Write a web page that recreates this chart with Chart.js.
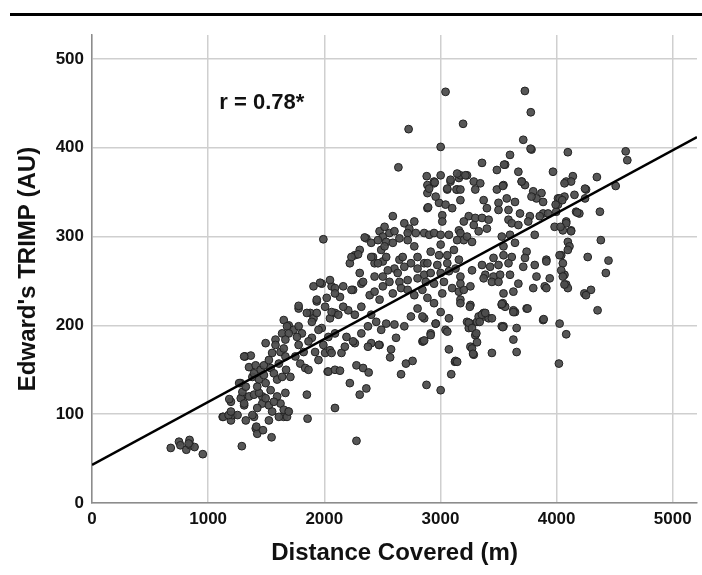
<!DOCTYPE html>
<html>
<head>
<meta charset="utf-8">
<script src="https://cdn.jsdelivr.net/npm/chart.js@4/dist/chart.umd.min.js"></script>
<style>
  html, body { margin: 0; padding: 0; background: #fff; overflow: hidden; }
  #wrap { width: 702px; height: 575px; position: relative; }
  #chart { display: block; }
</style>
</head>
<body>
<div id="wrap"><canvas id="chart"></canvas></div>
<script>
// axis ticks
const xTicks = [0, 1000, 2000, 3000, 4000, 5000];
const yTicks = [0, 100, 200, 300, 400, 500];

// sessions: [distance covered (m), Edward's TRIMP (AU)]
const shortSessions = [
  [678,62],[749,69],[761,65],[812,60],[840,71],[846,65],[883,63],[954,55],[832,67]
];

const lowSessions = [
  [1290,64],[1125,97],[1196,93],[1210,99],[1196,114],[1182,117],[1281,135],[1295,120],[1310,110],[1324,93],
  [1395,97],[1410,84],[1423,78],[1472,82],[1546,74],[1523,93],[1318,165],[1367,166],[1352,153],[1381,142],
  [1438,139],[1466,120],[1495,180],[1580,184],[1651,97],[1688,103],[1850,122],[1856,95],[2029,148],[2092,107],
  [1415,86],[1130,97],[1176,99],[1253,99],[1381,99],[1281,118],[1295,125],[1352,120],[1395,122],[1438,124],
  [1267,135],[1324,131],[1423,131],[1495,135],[1538,127],[1594,120],[1623,112],[1466,112],[1523,110],[1495,118],
  [1566,114],[1665,124],[1651,105],[1679,97],[1694,103],[1310,165],[1409,155],[1395,146],[1452,150],[1480,155],
  [1480,144],[1523,161],[1551,169],[1538,152],[1566,146],[1594,139],[1609,157],[1623,170],[1651,174],[1665,165],
  [1671,150],[1637,142],[1708,142],[1580,178],[1637,191],[1694,200],[1736,195],[1779,199],[1807,191],[1765,187],
  [1779,178],[1822,170],[1751,165],[1793,157],[1836,152],[1864,150],[1893,186],[1864,182],[1779,219],[1779,222],
  [1879,214],[1907,208],[1935,227],[1935,214],[2007,221],[2021,231],[1907,244],[1978,247],[2063,244],[2049,208],
  [1978,197],[2035,187],[1992,178],[2007,169],[2049,172],[2092,191],[1921,170],[1950,161],[2035,148],[2092,150],
  [1651,206],[1679,199],[1310,112],[1423,107],[1551,103],[1609,97],[1196,103],
  [1992,297],[1964,248],[2092,242],[1935,229],[1850,214],[2092,214],[1893,204],[1950,195],[1694,191],[1665,184]
];

const midSessions = [
  [2888,358],[2945,360],[2888,349],[3087,362],[3059,353],[3144,353],[2988,338],[3044,336],[3101,332],[2888,332],
  [3016,324],[3016,317],[2590,323],[2689,315],[2775,317],[2732,309],[2788,304],[2860,304],[2903,302],[2945,304],
  [3002,302],[3073,302],[3159,307],[3201,296],[3002,291],[2916,283],[2988,279],[3059,279],[3116,285],[3159,274],
  [3059,270],[2718,304],[2647,298],[2718,296],[2476,306],[2504,300],[2561,304],[2604,306],[2362,298],[2404,293],
  [2533,294],[2590,293],[2490,285],[2305,285],[2263,279],[2220,270],[2419,277],[2433,270],[2504,272],[2533,277],
  [2647,274],[2675,277],[2775,289],[2803,277],[2860,270],[2746,270],[2689,266],[2604,264],[2547,262],[2632,259],
  [2803,264],[2860,257],[2916,259],[2888,270],[2973,268],[3002,259],[3073,261],[3130,264],[3172,255],[3030,249],
  [2945,247],[2874,249],[2803,253],[2718,251],[2647,249],[2561,249],[2504,255],[2433,255],[2305,259],[2319,247],
  [2248,240],[2163,244],[2135,232],[2049,251],[2092,236],[2063,215],[2121,212],[2206,217],[2263,212],[2319,221],
  [2391,234],[2433,238],[2476,229],[2504,244],[2590,236],[2661,242],[2718,240],[2775,234],[2845,240],[2888,231],
  [2945,225],[3016,236],[3101,242],[3159,238],[3002,215],[2803,219],[2746,210],[2689,199],[2604,201],[2533,202],
  [2490,195],[2447,204],[2404,212],[2376,199],[2319,191],[2263,180],[2191,187],[2404,180],[2476,178],[2618,186],
  [2845,182],[2916,191],[2959,202],[3044,195],[3073,208],[2860,208],[2519,311],
  [2945,362],[2903,354],[2959,345],[2894,333],[2348,299],[2462,296],[2519,289],[2291,280],[2234,277],[2404,277],
  [2462,270],[2163,221],[2234,240],[2334,249],
  [2277,70],[2220,135],[2305,122],[2362,129],[2277,155],[2334,152],[2382,147],[2135,149],[2661,145],[2703,157],
  [2760,160],[2567,164],[2575,173],[2880,133],[3002,127],[3093,145],[3125,159],[2851,182],[2376,176],[2470,178],
  [2248,182],[2148,169],[2063,169],[2177,176],
  [2726,421],[2638,378],[2951,361],[3159,366],[3138,353]
];

const highSessions = [
  [3599,392],[3784,398],[4097,395],[3358,383],[3486,375],[3557,381],[3671,373],[3700,362],[3728,358],[3969,373],
  [4083,362],[4140,368],[3172,369],[3229,369],[3287,362],[3343,360],[3300,353],[3172,353],[3486,353],[3543,358],
  [3799,351],[3870,349],[3827,343],[3884,339],[4012,343],[4068,345],[4154,347],[4254,353],[4012,336],[3997,328],
  [3571,343],[3642,339],[3500,338],[3500,330],[3400,332],[3586,330],[3685,326],[3770,323],[3884,326],[3927,326],
  [4168,328],[4196,326],[3244,323],[3300,321],[3358,321],[3415,319],[3201,317],[3287,313],[3400,309],[3329,306],
  [3586,319],[3614,315],[3671,313],[3756,317],[3855,323],[3983,311],[4054,307],[4125,307],[4083,317],[3172,304],
  [3229,300],[3144,296],[3272,294],[3528,300],[3599,302],[3812,302],[3642,293],[3543,289],[3742,283],[3728,276],
  [3812,268],[3912,274],[4040,279],[4054,270],[4097,294],[4111,289],[4268,277],[4083,246],[4097,242],[4239,236],
  [4296,240],[4068,257],[3457,276],[3543,279],[3614,277],[3500,268],[3586,270],[3428,266],[3358,268],[3272,262],
  [3386,257],[3457,255],[3514,257],[3372,253],[3443,249],[3500,249],[3599,257],[3671,247],[3827,255],[3941,253],
  [3799,242],[3898,244],[3628,238],[3543,236],[3528,223],[3557,221],[3642,215],[3742,219],[3884,206],[4026,202],
  [3372,210],[3415,208],[3258,202],[3315,204],[3258,223],[3201,240],[3172,229],[3172,247],[3258,244],[3543,199],
  [3656,197],[3713,266],[3372,341],[3172,341],
  [3044,463],[3727,464],[3778,440],[3195,427],[3002,401],[3713,409],[3776,399],[4595,396],[4609,386],[3548,381],
  [4347,367],[4509,357],[4125,362],[4068,360],[4245,354],[4245,343],[2882,368],[3002,369],[3087,364],[3144,371],
  [3215,369],[3059,354],[3537,357],[3699,362],[3784,345],[4026,343],[4049,341],[3992,336],[4373,328],[4177,327],
  [4083,315],[4125,306],[4034,311],[4381,296],[4447,273],[4424,259],[4353,217],[4253,234],[4097,285],[4026,279],
  [4040,262],[4054,255],[4068,246],[4083,190],[4020,157],[3912,272],[3912,242],[3628,217],[3628,184],[3656,170],
  [3443,169],[3528,199],[3258,176],[3287,167],[3130,160],[3073,173],[2860,183],[2916,189],[3059,193],[3229,204],
  [3244,197],[3300,189],[3329,210],[3372,214],[3443,208],[3537,225],[3253,221],[2959,202],[2845,210],
  [3172,225],[3528,224],[3628,215],[3750,219],[3889,207],[3244,203],[3272,197],[3338,204],[3357,212],[3386,214],
  [3537,198],[3309,191],[3315,181],[3272,174],[3281,168],[3144,159]
];

// regression line end points
const fitLine = [[0, 43], [5209, 412]];
const rLabel = 'r = 0.78*';

const sessions = shortSessions.concat(lowSessions, midSessions, highSessions);

const fontFamily = '"Liberation Sans", Arial, sans-serif';

// draws the black rule at the top and the r label
const decorations = {
  id: 'decorations',
  afterDraw(chart) {
    const ctx = chart.ctx;
    ctx.save();
    ctx.fillStyle = '#000';
    ctx.fillRect(10, 13, 692, 3);
    const px = chart.scales.x.getPixelForValue(1096);
    const py = chart.scales.y.getPixelForValue(450);
    ctx.font = 'bold 22px ' + fontFamily;
    ctx.textBaseline = 'middle';
    ctx.textAlign = 'left';
    ctx.fillStyle = '#111';
    ctx.fillText(rLabel, px, py);
    ctx.restore();
  }
};

new Chart(document.getElementById('chart'), {
  type: 'scatter',
  data: {
    datasets: [
      {
        data: fitLine.map(p => ({ x: p[0], y: p[1] })),
        showLine: true,
        borderColor: '#000',
        borderWidth: 2.5,
        pointRadius: 0,
        fill: false
      },
      {
        data: sessions.map(p => ({ x: p[0], y: p[1] })),
        pointRadius: 3.9,
        pointBackgroundColor: 'rgba(78,78,78,0.95)',
        pointBorderColor: '#222',
        pointBorderWidth: 1
      }
    ]
  },
  options: {
    responsive: true,
    maintainAspectRatio: false,
    animation: false,
    devicePixelRatio: 1,
    layout: { padding: { top: 35, right: 0, left: 0, bottom: 0 } },
    plugins: { legend: { display: false }, tooltip: { enabled: false } },
    scales: {
      x: {
        type: 'linear',
        min: 0,
        max: 5209,
        afterBuildTicks: s => { s.ticks = xTicks.map(v => ({ value: v })); },
        // fixed height, and no extra room for the end labels
        afterFit: s => { s.height = 72; s.paddingLeft = 0; s.paddingRight = 0; },
        ticks: {
          callback: v => String(v),
          font: { family: fontFamily, size: 17, weight: 'bold' },
          color: '#111',
          padding: 6
        },
        grid: { color: '#cfcfcf', lineWidth: 1.5, drawTicks: false },
        border: { color: '#8c8c8c', width: 1.5 },
        title: {
          display: true,
          text: 'Distance Covered (m)',
          font: { family: fontFamily, size: 24, weight: 'bold' },
          color: '#111',
          padding: { top: 0, bottom: 7 }
        }
      },
      y: {
        type: 'linear',
        min: 0,
        max: 527,
        afterBuildTicks: s => { s.ticks = yTicks.map(v => ({ value: v })); },
        afterFit: s => { s.width = 92; s.paddingTop = 0; s.paddingBottom = 0; },
        ticks: {
          callback: v => String(v),
          font: { family: fontFamily, size: 17, weight: 'bold' },
          color: '#111',
          padding: 8
        },
        grid: { color: '#cfcfcf', lineWidth: 1.5, drawTicks: false },
        border: { color: '#8c8c8c', width: 1.5 },
        title: {
          display: true,
          text: "Edward's TRIMP (AU)",
          font: { family: fontFamily, size: 24, weight: 'bold' },
          color: '#111',
          padding: { top: 14, bottom: 0 }
        }
      }
    }
  },
  plugins: [decorations]
});
</script>
</body>
</html>
